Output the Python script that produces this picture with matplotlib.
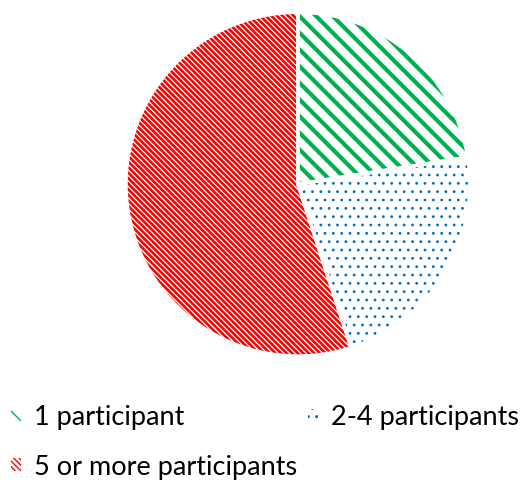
import matplotlib
matplotlib.use("Agg")
import matplotlib.pyplot as plt
from matplotlib.patches import Patch

# share of teams by number of participants
labels = ["1 participant", "2-4 participants", "5 or more participants"]
shares = [22.5, 22.5, 55.0]
colors = ["#00b050", "#0070c0", "#ff0000"]
hatches = ["\\\\", "..", "\\\\\\\\\\\\"]
hatch_widths = [3.0, 0.8, 1.9]

plt.rcParams["font.family"] = ["Lato", "DejaVu Sans"]

fig = plt.figure(figsize=(5.21, 4.80), dpi=100)
ax = fig.add_axes([0.2418, 0.258, 0.660, 0.7167])

wedges, _ = ax.pie(shares, startangle=90, counterclock=False,
                   colors=["none"] * 3, radius=1.0)
for w, c, h, lw in zip(wedges, colors, hatches, hatch_widths):
    w.set_edgecolor(c)
    w.set_linewidth(0)
    w.set_hatch(h)
    if hasattr(w, "set_hatch_linewidth"):
        w.set_hatch_linewidth(lw)

# white separators between slices
sep, _ = ax.pie(shares, startangle=90, counterclock=False, radius=1.0,
                colors=["none"] * 3,
                wedgeprops=dict(edgecolor="white", linewidth=2.5))
ax.set_xlim(-1, 1)
ax.set_ylim(-1, 1)
ax.set_aspect("equal")

handles = []
for c, h, lw in zip(colors, hatches, hatch_widths):
    p = Patch(facecolor="none", edgecolor=c, hatch=h, linewidth=0)
    if hasattr(p, "set_hatch_linewidth"):
        p.set_hatch_linewidth(lw * 0.8)
    handles.append(p)

# order so the two-column legend reads row by row
order = [0, 2, 1]
fig.legend([handles[i] for i in order], [labels[i] for i in order],
           loc="upper left", bbox_to_anchor=(0.022, 0.157), ncol=2,
           frameon=False, fontsize=19.5, handlelength=0.35, handleheight=0.35,
           handletextpad=0.5, columnspacing=0.4, labelspacing=0.92,
           borderaxespad=0, borderpad=0)

fig.savefig("out.png", dpi=100)
